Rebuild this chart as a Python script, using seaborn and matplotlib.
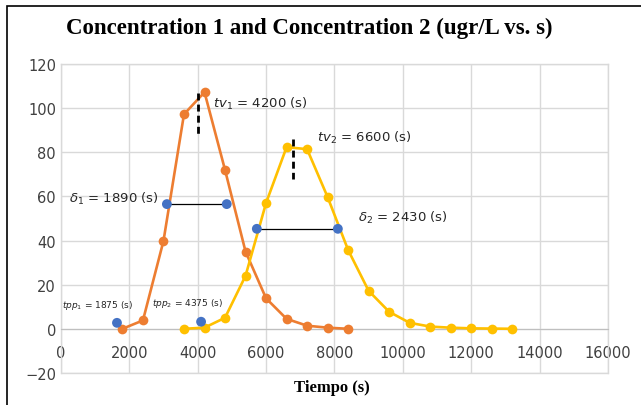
"""Concentration 1 and Concentration 2 curves with retention markers"""

import matplotlib

matplotlib.use("Agg")
import matplotlib.pyplot as plt
import numpy as np
import pandas as pd
import seaborn as sns
from matplotlib.patches import Rectangle

##### data #####################################################################
time_c1 = [1800, 2400, 3000, 3600, 4200, 4800, 5400, 6000, 6600, 7200, 7800, 8400]
conc_c1 = [0, 3.8, 39.8, 97.2, 107.2, 72, 35, 13.8, 4.5, 1.4, 0.5, 0]

time_c2 = [3600, 4200, 4800, 5400, 6000, 6600, 7200, 7800, 8400, 9000,
           9600, 10200, 10800, 11400, 12000, 12600, 13200]
conc_c2 = [0, 0.5, 5, 24, 57, 82.3, 81.4, 59.7, 35.7, 17.2,
           7.7, 2.7, 1, 0.5, 0.2, 0.1, 0]

# blue reference points: tpp1, tpp2, delta1 ends, delta2 ends
tpp_time = [1640, 4100]
tpp_conc = [2.7, 3.2]
delta1_time = [3100, 4850]
delta1_conc = [56.5, 56.5]
delta2_time = [5730, 8100]
delta2_conc = [45.3, 45.3]

# dashed peak markers
tv1_time = [4000, 4000]
tv1_conc = [107, 88]
tv2_time = [6800, 6800]
tv2_conc = [86, 68]

ORANGE = "#ED7D31"
YELLOW = "#FFC000"
BLUE = "#4472C4"
GRID = "#D9D9D9"

sns.set_style("white")
plt.rcParams["font.family"] = ["DejaVu Sans"]

df1 = pd.DataFrame({"t": time_c1, "c": conc_c1})
df2 = pd.DataFrame({"t": time_c2, "c": conc_c2})

fig = plt.figure(figsize=(6.41, 4.06), dpi=100)
ax = fig.add_axes([0.095, 0.079, 0.8535, 0.761])

sns.lineplot(data=df1, x="t", y="c", color=ORANGE, linewidth=1.9,
             marker="o", markersize=7, markeredgewidth=0, ax=ax, zorder=3)
sns.lineplot(data=df2, x="t", y="c", color=YELLOW, linewidth=1.9,
             marker="o", markersize=7, markeredgewidth=0, ax=ax, zorder=3)

# half-width segments
ax.plot(delta1_time, delta1_conc, color="black", linewidth=0.9, zorder=4)
ax.plot(delta2_time, delta2_conc, color="black", linewidth=0.9, zorder=4)
sns.scatterplot(x=tpp_time + delta1_time + delta2_time,
                y=tpp_conc + delta1_conc + delta2_conc,
                color=BLUE, s=50, edgecolor="none", ax=ax, zorder=5)

# peak markers
ax.plot(tv1_time, tv1_conc, color="black", linestyle=(0, (2.5, 1.5)), linewidth=2, zorder=4)
ax.plot(tv2_time, tv2_conc, color="black", linestyle=(0, (2.5, 1.5)), linewidth=2, zorder=4)

ax.set_xlim(0, 16000)
ax.set_ylim(-20, 120)
ax.set_xticks(np.arange(0, 16001, 2000))
ax.set_yticks(np.arange(-20, 121, 20))
ax.grid(True, color=GRID, linewidth=1)
for side in ["top", "left", "right"]:
    ax.spines[side].set_color(GRID)
    ax.spines[side].set_linewidth(1)
ax.spines["bottom"].set_position(("data", 0))
ax.spines["bottom"].set_color("#BFBFBF")
ax.axhline(-20, color=GRID, linewidth=1, clip_on=False, zorder=0)
ax.tick_params(axis="both", length=0, labelsize=10.5, colors="#404040")
ax.tick_params(axis="x", pad=12)
ax.set_axisbelow(True)

ax.set_xlabel("")
ax.set_ylabel("")
fig.text(0.518, 0.045, "Tiempo (s)", ha="center", va="center", color="black",
         fontsize=12, fontweight="bold", family="Liberation Serif")
fig.text(0.483, 0.93, "Concentration 1 and Concentration 2 (ugr/L vs. s)",
         ha="center", va="center", fontsize=16.5, fontweight="bold",
         color="black", family="Liberation Serif")

# annotations
ann = dict(color="#262626", zorder=6)
ax.text(4450, 102.5, r"$tv_1$ = 4200 (s)", fontsize=9.5, va="center", **ann)
ax.text(7500, 87, r"$tv_2$ = 6600 (s)", fontsize=9.5, va="center", **ann)
ax.text(250, 59.5, r"$\delta_1$ = 1890 (s)", fontsize=9.5, va="center", **ann)
ax.text(8700, 50.5, r"$\delta_2$ = 2430 (s)", fontsize=9.5, va="center", **ann)
ax.text(20, 11, r"$tpp_1$ = 1875 (s)", fontsize=6.5, va="center", **ann)
ax.text(2650, 12, r"$tpp_2$ = 4375 (s)", fontsize=6.5, va="center", **ann)

# outer chart border
fig.patches.append(Rectangle((7 / 641, -0.1), 1.2, 1.1 - 7 / 406,
                             transform=fig.transFigure, fill=False,
                             edgecolor="black", linewidth=1.2))

fig.savefig("out.png", dpi=100)
plt.close()
